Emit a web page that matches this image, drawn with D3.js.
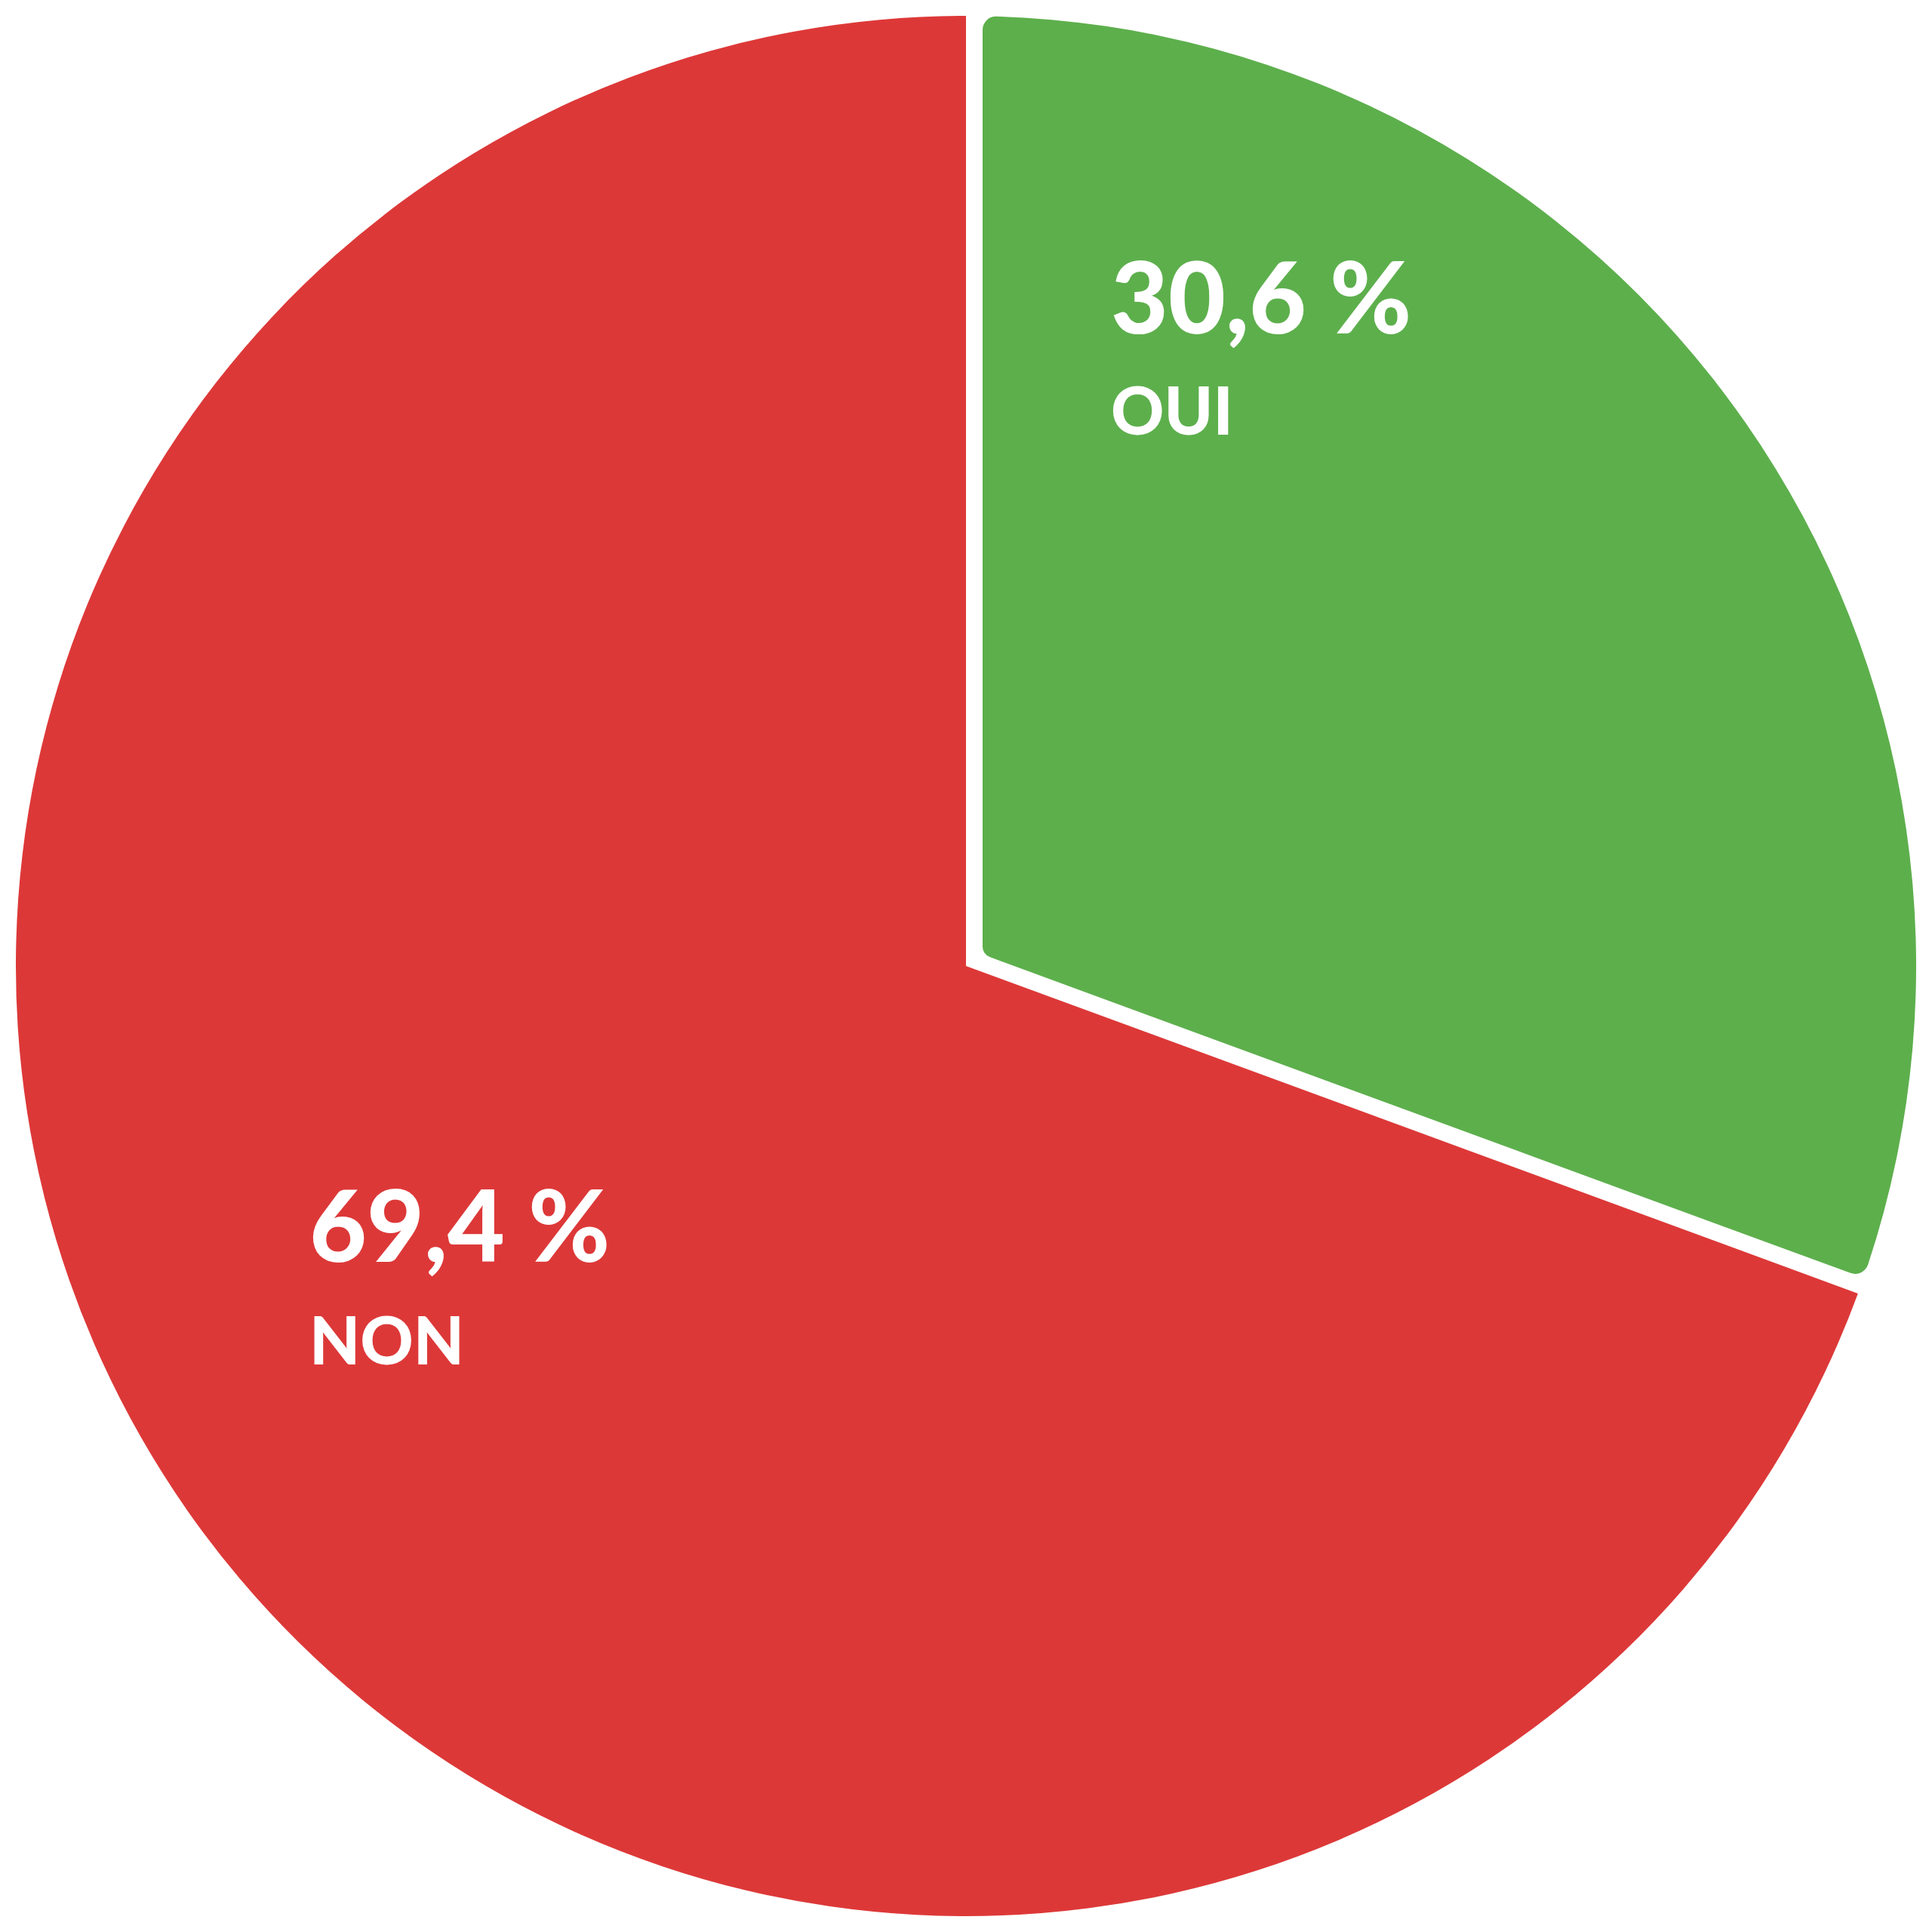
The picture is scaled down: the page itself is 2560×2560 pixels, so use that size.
<!DOCTYPE html>
<html>
<head>
<meta charset="utf-8">
<script src="https://cdn.jsdelivr.net/npm/d3@7"></script>
<style>
  body { margin: 0; background: #fff; }
  .lbl { font-family: Lato, Inter, sans-serif; font-weight: 900; fill: #fff; }
</style>
</head>
<body>
<svg id="chart" width="2560" height="2560"></svg>
<script>
// answers, clockwise from 12 o'clock
const categories = ["OUI", "NON"];
const percents = [30.6, 69.4];
const valueLabels = ["30,6 %", "69,4 %"];
const colors = ["#5daf4c", "#dd3838"];

// layout
const width = 2560, height = 2560;
const cx = 1280, cy = 1280, R = 1259;
// label anchors (left x, value baseline, category baseline) relative to the centre
const labelLayout = [
  { x: 192, y: -838, y2: -704 },
  { x: -870, y: 392, y2: 528 }
];

const svg = d3.select("#chart")
  .attr("width", width)
  .attr("height", height);

const g = svg.append("g").attr("transform", `translate(${cx},${cy})`);

const pie = d3.pie().sort(null).value((d) => d);
const arcs = pie(percents);

// plain slice
const arcPlain = d3.arc().innerRadius(0).outerRadius(R);

// highlighted slice: inset edges with rounded corners
const gap = 22;
const arcInset = d3.arc()
  .innerRadius(30)
  .outerRadius(R)
  .padRadius(R)
  .padAngle(2 * Math.asin(gap / R))
  .cornerRadius(18);

g.selectAll("path.slice")
  .data(arcs)
  .join("path")
  .attr("class", "slice")
  .attr("fill", (d, i) => colors[i])
  .attr("d", (d, i) => (i === 0 ? arcInset(d) : arcPlain(d)));

// value labels
g.selectAll("text.value")
  .data(arcs)
  .join("text")
  .attr("class", "lbl value")
  .attr("x", (d, i) => labelLayout[i].x)
  .attr("y", (d, i) => labelLayout[i].y)
  .attr("font-size", 131)
  .text((d, i) => valueLabels[i]);

// category labels
g.selectAll("text.cat")
  .data(arcs)
  .join("text")
  .attr("class", "lbl cat")
  .attr("x", (d, i) => labelLayout[i].x)
  .attr("y", (d, i) => labelLayout[i].y2)
  .attr("font-size", 87)
  .text((d, i) => categories[i]);
</script>
</body>
</html>
